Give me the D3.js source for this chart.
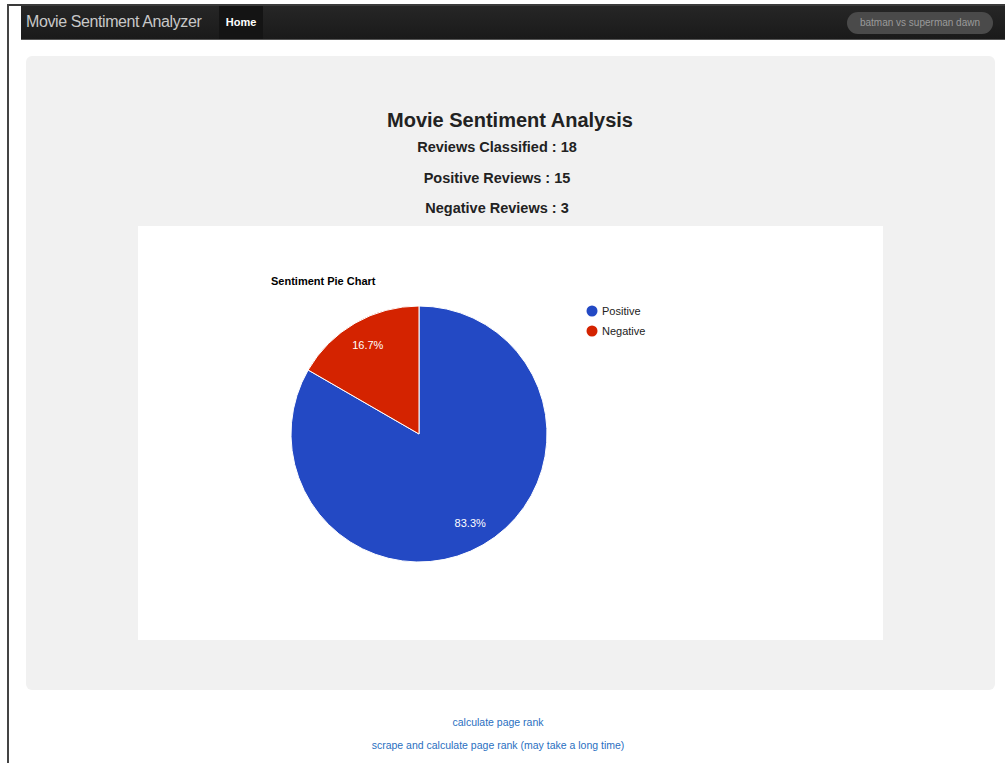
<!DOCTYPE html>
<html>
<head>
<meta charset="utf-8">
<script src="https://cdn.jsdelivr.net/npm/d3@7"></script>
<style>
  html, body { margin: 0; padding: 0; background: #fff; }
  body { width: 1005px; height: 763px; overflow: hidden; position: relative; font-family: "Liberation Sans", Arial, Helvetica, sans-serif; }
  #frameTop { position: absolute; left: 8px; top: 4px; width: 997px; height: 2px; background: #3a3a3a; }
  #frameLeft { position: absolute; left: 7px; top: 4px; width: 2px; height: 759px; background: #444; }
  #nav { position: absolute; left: 21px; top: 6px; width: 984px; height: 33px; background: linear-gradient(#262626, #1a1a1a); border-bottom: 1px solid #555; }
  #brand { position: absolute; left: 5px; top: 7px; font-size: 16px; color: #c8c8c8; letter-spacing: -0.4px; }
  #home { position: absolute; left: 198px; top: 0; width: 44px; height: 33px; background: #141414; color: #fff; font-size: 11px; font-weight: bold; text-align: center; line-height: 33px; }
  #search { position: absolute; left: 826px; top: 6px; width: 146px; height: 22px; border-radius: 11px; background: #4a4a4a; color: #9a9a9a; font-size: 10px; line-height: 22px; text-align: center; }
  #panel { position: absolute; left: 26px; top: 56px; width: 969px; height: 634px; background: #f1f1f1; border-radius: 6px; }
  .h { position: absolute; left: 0; width: 1020px; text-align: center; color: #222; font-weight: bold; }
  .s { width: 994px; }
  #chartBox { position: absolute; left: 138px; top: 226px; width: 745px; height: 414px; background: #fff; }
  .link { position: absolute; left: 0; width: 996px; text-align: center; color: #2a6fbf; font-size: 10.5px; }
</style>
</head>
<body>
<div id="frameTop"></div>
<div id="frameLeft"></div>
<div id="nav">
  <div id="brand">Movie Sentiment Analyzer</div>
  <div id="home">Home</div>
  <div id="search">batman vs superman dawn</div>
</div>
<div id="panel"></div>
<div class="h" style="top:109px;font-size:20px;">Movie Sentiment Analysis</div>
<div class="h s" style="top:139px;font-size:14.5px;">Reviews Classified : 18</div>
<div class="h s" style="top:170px;font-size:14.5px;">Positive Reviews : 15</div>
<div class="h s" style="top:200px;font-size:14.5px;">Negative Reviews : 3</div>
<div id="chartBox"></div>
<div class="link" style="top:716px;">calculate page rank</div>
<div class="link" style="top:739px;">scrape and calculate page rank (may take a long time)</div>

<script>
// Review counts by sentiment
const categories = ["Positive", "Negative"];
const reviewCounts = [15, 3];
const sliceColors = ["#2349c4", "#d42300"];
const chartTitle = "Sentiment Pie Chart";

const W = 745, H = 414;
const svg = d3.select("#chartBox").append("svg")
  .attr("width", W).attr("height", H);

const cx = 281, cy = 208, r = 128;

svg.append("text")
  .attr("x", 133).attr("y", 59)
  .attr("font-size", 11).attr("font-weight", "bold")
  .attr("fill", "#000")
  .text(chartTitle);

const total = d3.sum(reviewCounts);
const data = categories.map((c, i) => ({ name: c, value: reviewCounts[i], color: sliceColors[i] }));

const pie = d3.pie().sort(null).value(d => d.value);
const arc = d3.arc().innerRadius(0).outerRadius(r);
const labelArc = d3.arc().innerRadius(r * 0.8).outerRadius(r * 0.8);

const g = svg.append("g").attr("transform", `translate(${cx},${cy})`);
const arcs = pie(data);

g.selectAll("path.slice").data(arcs).join("path")
  .attr("class", "slice")
  .attr("d", arc)
  .attr("fill", d => d.data.color)
  .attr("stroke", "#fff")
  .attr("stroke-width", 1);

g.selectAll("text.pct").data(arcs).join("text")
  .attr("class", "pct")
  .attr("transform", d => `translate(${labelArc.centroid(d)})`)
  .attr("text-anchor", "middle")
  .attr("dy", "0.35em")
  .attr("font-size", 11)
  .attr("fill", "#fff")
  .text(d => (d.data.value / total * 100).toFixed(1) + "%");

// Legend
const legend = svg.append("g").attr("transform", "translate(454,85)");
const item = legend.selectAll("g").data(data).join("g")
  .attr("transform", (d, i) => `translate(0,${i * 20})`);
item.append("circle").attr("r", 5.5).attr("cx", 0).attr("cy", 0).attr("fill", d => d.color);
item.append("text").attr("x", 10).attr("y", 0).attr("dy", "0.35em")
  .attr("font-size", 11).attr("fill", "#222").text(d => d.name);
</script>
</body>
</html>
